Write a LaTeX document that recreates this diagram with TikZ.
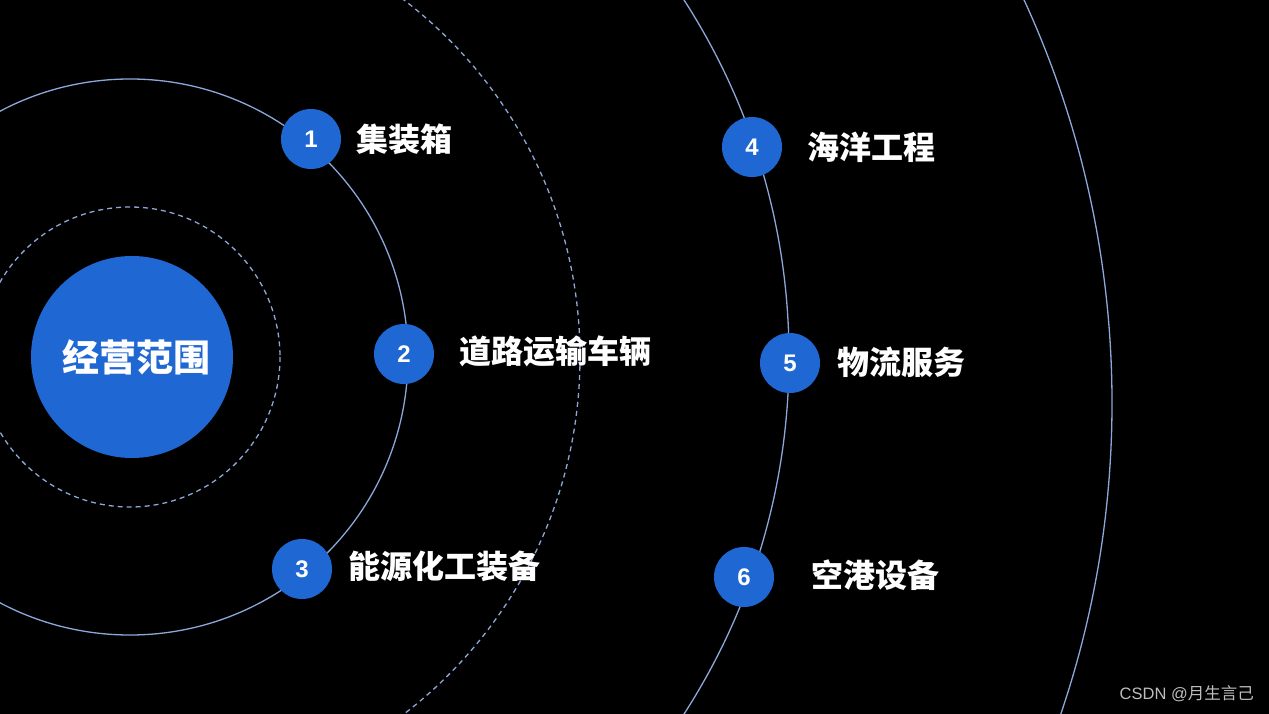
\documentclass[tikz,border=0pt]{standalone}
\usepackage{fontspec}
\setmainfont{Liberation Sans}
\newfontfamily\numfont{Liberation Sans}[BoldFont={Liberation Sans Bold}]
\newfontfamily\cjk{Noto Sans CJK SC}
\definecolor{mainblue}{RGB}{31,104,212}
\definecolor{ringcol}{RGB}{140,168,218}
\definecolor{wmcol}{RGB}{190,190,190}
\tikzset{
  ring/.style={draw=ringcol, line width=1.3pt},
  dashring/.style={ring, dash pattern=on 5pt off 4pt},
  numnode/.style={circle, fill=mainblue, minimum size=60pt, inner sep=0pt, text=white, font=\numfont\bfseries\fontsize{24}{24}\selectfont},
  lbl/.style={anchor=west, inner sep=0pt, text=white, font=\cjk\bfseries\fontsize{32}{32}\selectfont},
}
\begin{document}
\begin{tikzpicture}[x=1pt,y=-1pt]
\useasboundingbox (0,0) rectangle (1269,714);
\fill[black] (0,0) rectangle (1269,714);
\begin{scope}
\clip (0,0) rectangle (1269,714);
\draw[dashring] (130,357) circle[radius=150];
\draw[ring] (130,357) circle[radius=278];
\draw[dashring] (130,357) circle[radius=450];
\draw[ring] (130,357) circle[radius=659];
\draw[ring] (147,403) circle[radius=965];
\end{scope}
\node[circle, fill=mainblue, minimum size=202pt, inner sep=0pt] (c) at (132,357) {};
\node[text=white, inner sep=0pt, font=\cjk\bfseries\fontsize{37}{37}\selectfont] (ct) at (136,357) {经营范围};
\node[numnode] (n1) at (311,139) {1};
\node[numnode] (n2) at (404,354) {2};
\node[numnode] (n3) at (302,569) {3};
\node[numnode] (n4) at (752,147) {4};
\node[numnode] (n5) at (790,363) {5};
\node[numnode] (n6) at (744,577) {6};
\node[lbl] (l1) at (356,139) {集装箱};
\node[lbl] (l2) at (459,351) {道路运输车辆};
\node[lbl] (l3) at (348,566) {能源化工装备};
\node[lbl] (l4) at (807,147) {海洋工程};
\node[lbl] (l5) at (837,362) {物流服务};
\node[lbl] (l6) at (811,575) {空港设备};
\node[anchor=east, inner sep=0pt, text=wmcol, font=\fontsize{16.5}{16.5}\selectfont] (wm) at (1254,694) {CSDN @{\cjk 月生言己}};
\end{tikzpicture}
\end{document}
